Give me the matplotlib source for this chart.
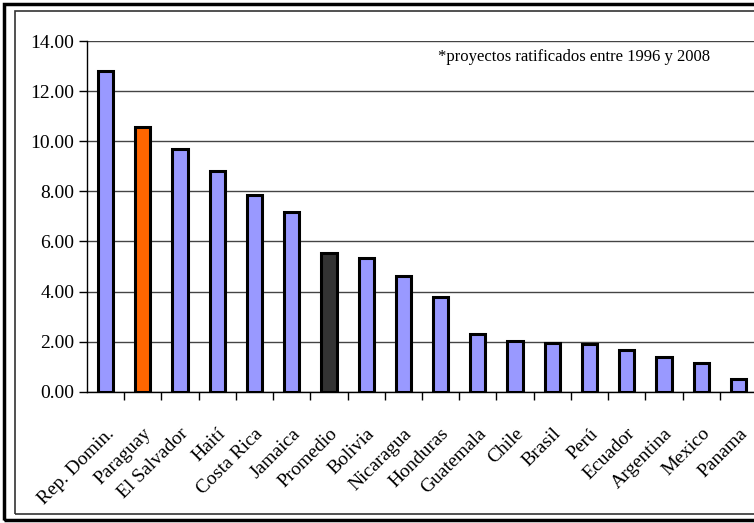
import matplotlib
matplotlib.use("Agg")
import matplotlib.pyplot as plt
from matplotlib.patches import Rectangle

# Data
paises = ["Rep. Domin.", "Paraguay", "El Salvador", "Haití", "Costa Rica", "Jamaica",
          "Promedio", "Bolivia", "Nicaragua", "Honduras", "Guatemala", "Chile",
          "Brasil", "Perú", "Ecuador", "Argentina", "Mexico", "Panama"]
valores = [12.80, 10.55, 9.70, 8.80, 7.87, 7.18,
           5.52, 5.33, 4.63, 3.77, 2.31, 2.02,
           1.96, 1.91, 1.67, 1.38, 1.15, 0.51]
y_ticks = [0, 2, 4, 6, 8, 10, 12, 14]
nota = "*proyectos ratificados entre 1996 y 2008"

plt.rcParams["font.family"] = ["Liberation Serif", "DejaVu Serif"]

W, H = 754, 523
fig = plt.figure(figsize=(W / 100, H / 100), dpi=100)

# two frames round the chart (right side runs off the image)
fig.patches.append(Rectangle((4 / W, 1 - 520 / H), 780 / W, 516 / H, transform=fig.transFigure,
                             fill=False, edgecolor="black", lw=2.5, zorder=0))
fig.patches.append(Rectangle((15 / W, 1 - 514 / H), 780 / W, 503 / H, transform=fig.transFigure,
                             fill=False, edgecolor="#333333", lw=1.2, zorder=0))

left, right, top, bottom = 87, 757, 41, 391.7
ax = fig.add_axes([left / W, 1 - bottom / H, (right - left) / W, (bottom - top) / H])

colores = []
for p in paises:
    if p == "Paraguay":
        colores.append("#FF6600")
    elif p == "Promedio":
        colores.append("#333333")
    else:
        colores.append("#9999FF")

x = list(range(len(paises)))
ax.bar(x, valores, width=0.41, color=colores, edgecolor="black", linewidth=2.2, zorder=3)

ax.set_xlim(-0.5, len(paises) - 0.5)
ax.set_ylim(0, 14)
ax.set_yticks(y_ticks)
ax.set_yticklabels([f"{v:.2f}" for v in y_ticks], fontsize=14)
ax.yaxis.grid(True, color="#444444", lw=1, zorder=0)
ax.set_axisbelow(True)

ax.set_xticks(x)
ax.set_xticklabels(paises, rotation=45, ha="right", va="top", rotation_mode="anchor", fontsize=14)
ax.set_xticks([i + 0.5 for i in range(len(paises) - 1)], minor=True)
ax.tick_params(axis="x", which="major", length=0, pad=24)
ax.tick_params(axis="x", which="minor", length=6, width=1, color="black")
ax.tick_params(axis="y", length=6, width=1, pad=3)

for s in ["top", "right"]:
    ax.spines[s].set_visible(False)
ax.spines["left"].set_linewidth(1)
ax.spines["bottom"].set_linewidth(1)

fig.text(438 / W, 1 - 57 / H, nota, fontsize=12, va="center", ha="left")

fig.savefig("out.png", dpi=100)
